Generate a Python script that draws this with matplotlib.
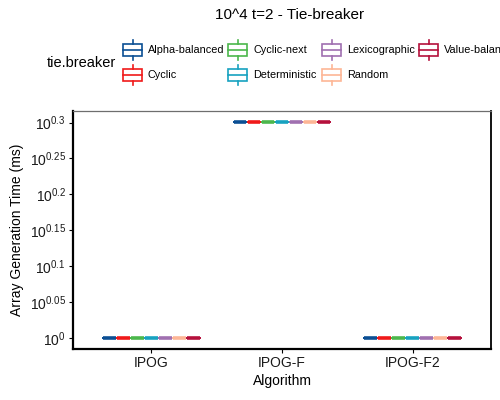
import matplotlib
matplotlib.use("Agg")
import matplotlib.pyplot as plt
from matplotlib.patches import Rectangle
from matplotlib.lines import Line2D
import numpy as np

plt.rcParams['font.family'] = ['Liberation Sans', 'DejaVu Sans']
plt.rcParams['mathtext.fontset'] = 'custom'
plt.rcParams['mathtext.rm'] = 'Liberation Sans'
plt.rcParams['mathtext.it'] = 'Liberation Sans:italic'

# data
algorithms = ["IPOG", "IPOG-F", "IPOG-F2"]
tie_breakers = ["Alpha-balanced", "Cyclic", "Cyclic-next", "Deterministic",
                "Lexicographic", "Random", "Value-balanced"]
colors = ["#0b4f94", "#f01a1a", "#4cb74c", "#17a2c0",
          "#a070b0", "#fdb696", "#b5103c"]
# generation time (ms) per tie breaker, one value per algorithm
time_alpha = [1, 2, 1]
time_cyclic = [1, 2, 1]
time_cyclic_next = [1, 2, 1]
time_deterministic = [1, 2, 1]
time_lexicographic = [1, 2, 1]
time_random = [1, 2, 1]
time_value = [1, 2, 1]
times = [time_alpha, time_cyclic, time_cyclic_next, time_deterministic,
         time_lexicographic, time_random, time_value]

ytick_exp = [0, 0.05, 0.1, 0.15, 0.2, 0.25, 0.3]
ytick_labels = ["$10^{0}$", "$10^{0.05}$", "$10^{0.1}$", "$10^{0.15}$",
                "$10^{0.2}$", "$10^{0.25}$", "$10^{0.3}$"]

W, H = 500, 400
fig = plt.figure(figsize=(5, 4), dpi=100)
ax = fig.add_axes([73 / W, 1 - 349 / H, 418 / W, 238 / H])

# dodge boxes inside each algorithm
n = len(tie_breakers)
slot = 0.75 / n
x = np.arange(1, len(algorithms) + 1)
for i, (vals, col) in enumerate(zip(times, colors)):
    pos = x - 0.375 + slot * (i + 0.5)
    ax.boxplot([[v] for v in vals], positions=pos, widths=slot * 0.88,
               manage_ticks=False, showfliers=False,
               boxprops=dict(color=col, linewidth=1.2),
               whiskerprops=dict(color=col, linewidth=1.2),
               capprops=dict(linewidth=0),
               medianprops=dict(color=col, linewidth=2.6, solid_capstyle='butt'))

ax.set_yscale('log')
lo, hi = 0.0, np.log10(2)
pad = (hi - lo) * 0.05
ax.set_ylim(10 ** (lo - pad), 10 ** (hi + pad))
ax.set_xlim(0.4, 3.6)
ax.yaxis.set_major_locator(matplotlib.ticker.FixedLocator([10 ** e for e in ytick_exp]))
ax.yaxis.set_minor_locator(matplotlib.ticker.NullLocator())
ax.set_yticklabels(ytick_labels)
ax.set_xticks(x)
ax.set_xticklabels(algorithms)
ax.tick_params(axis='both', direction='out', length=3, width=0.8,
               color='black', labelsize=10, labelcolor='#1a1a1a', pad=2)

ax.spines['left'].set_linewidth(1.6)
ax.spines['bottom'].set_linewidth(1.6)
ax.spines['right'].set_linewidth(1.3)
ax.spines['top'].set_linewidth(0.9)
ax.spines['top'].set_color('#6e6e6e')

ax.set_xlabel("Algorithm", fontsize=10, labelpad=3)
ax.set_ylabel("Array Generation Time (ms)", fontsize=10, labelpad=4)
fig.text(290 / W, 1 - 15 / H, "10^4 t=2 - Tie-breaker", ha='center',
         va='center', fontsize=11)

# legend drawn by hand in figure pixels
def px(xp, yp):
    return xp / W, 1 - yp / H

fig.text(*px(47, 63), "tie.breaker", ha='left', va='center', fontsize=10.5)
col_keys = [123, 228, 322, 419]
row_y = [50, 75]
for i, (name, col) in enumerate(zip(tie_breakers, colors)):
    cx = col_keys[i // 2]
    cy = row_y[i % 2]
    kw = 19
    fig.add_artist(Rectangle(px(cx, cy + 6), kw / W, 12 / H, fill=False,
                             edgecolor=col, linewidth=1.2,
                             transform=fig.transFigure))
    fig.add_artist(Line2D([cx / W, (cx + kw) / W], [1 - cy / H] * 2,
                          color=col, linewidth=1.2, transform=fig.transFigure))
    mx = (cx + kw / 2) / W
    fig.add_artist(Line2D([mx, mx], [1 - (cy - 10) / H, 1 - (cy - 6) / H],
                          color=col, linewidth=1.2, transform=fig.transFigure))
    fig.add_artist(Line2D([mx, mx], [1 - (cy + 6) / H, 1 - (cy + 10) / H],
                          color=col, linewidth=1.2, transform=fig.transFigure))
    # the last label runs past the right edge, as in the reference
    fig.text(*px(cx + 25, cy), name, ha='left', va='center', fontsize=7.8)

fig.savefig("out.png", dpi=100)
